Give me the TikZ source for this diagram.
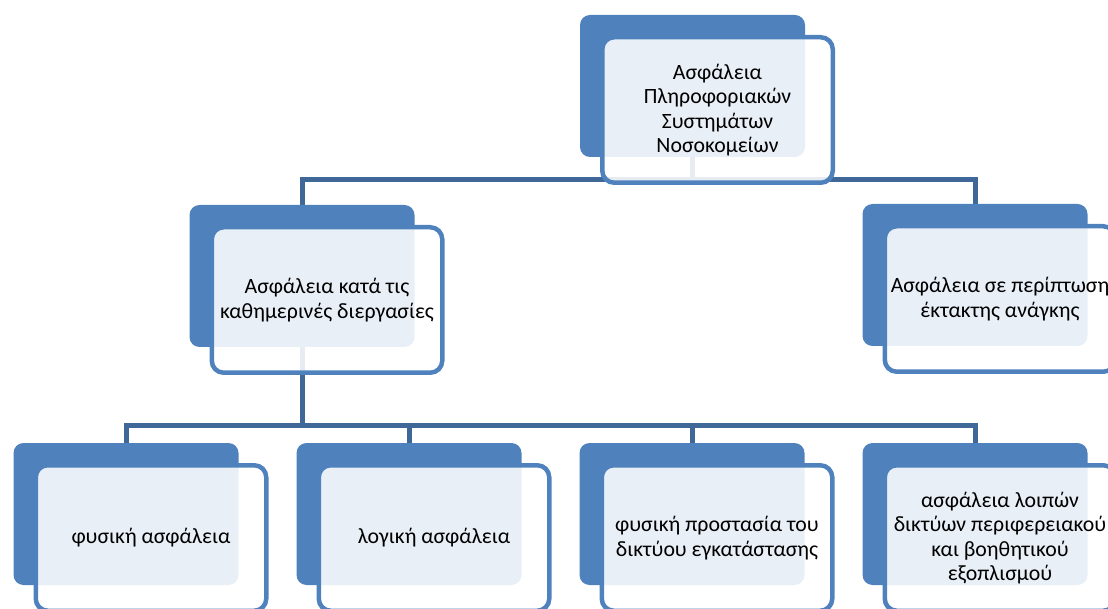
\documentclass[tikz,border=0pt]{standalone}
\usepackage{fontspec}
\setmainfont{Carlito}
\definecolor{accent}{HTML}{4F81BD}
\definecolor{linkblue}{HTML}{3F6899}
\tikzset{
  backbox/.style={draw=none, fill=accent, rounded corners=10pt,
    minimum width=225pt, minimum height=142pt, inner sep=0pt},
  frontbox/.style={draw=accent, line width=4.5pt, fill=white, fill opacity=0.88,
    text opacity=1, rounded corners=12pt, minimum width=230.5pt, minimum height=145.5pt,
    inner sep=0pt, align=center, font=\fontsize{21.8}{24.4}\selectfont},
  conn/.style={draw=linkblue, line width=5pt},
}
\begin{document}
\begin{tikzpicture}[x=1pt, y=-1pt]
\useasboundingbox (0,0) rectangle (1108,609);
\clip (0,0) rectangle (1108,609);

% anchors of the back panels
\coordinate (p0) at (692.5,86);
\coordinate (p1) at (302,276);
\coordinate (p2) at (975,275);
\coordinate (p3) at (126,514);
\coordinate (p4) at (409,514);
\coordinate (p5) at (692,514);
\coordinate (p6) at (975,514);

% tree connectors, drawn first so the panels sit over them
\path (p0) ++(0,94) coordinate (h0);
\path (p1) ++(0,149) coordinate (h1);
\draw[conn] (p0) -- (h0) -| (p1);
\draw[conn] (h0) -| (p2);
\draw[conn] (p1) -- (h1) -| (p3);
\draw[conn] (h1) -| (p4);
\draw[conn] (h1) -| (p5);
\draw[conn] (h1) -| (p6);

% back panels
\foreach \i in {0,...,6} {
  \node[backbox] (b\i) at (p\i) {};
}

% front panels with the labels
\node[frontbox] (f0) at ([shift={(25,24)}]b0.center) {Ασφάλεια\\Πληροφοριακών\\Συστημάτων\\Νοσοκομείων};
\node[frontbox] (f1) at ([shift={(25,24)}]b1.center) {Ασφάλεια κατά τις\\καθημερινές διεργασίες};
\node[frontbox] (f2) at ([shift={(25,24)}]b2.center) {Ασφάλεια σε περίπτωση\\έκτακτης ανάγκης};
\node[frontbox] (f3) at ([shift={(25,24)}]b3.center) {φυσική ασφάλεια};
\node[frontbox] (f4) at ([shift={(25,24)}]b4.center) {λογική ασφάλεια};
\node[frontbox] (f5) at ([shift={(25,24)}]b5.center) {φυσική προστασία του\\δικτύου εγκατάστασης};
\node[frontbox] (f6) at ([shift={(25,24)}]b6.center) {ασφάλεια λοιπών\\δικτύων περιφερειακού\\και βοηθητικού\\εξοπλισμού};
\end{tikzpicture}
\end{document}
